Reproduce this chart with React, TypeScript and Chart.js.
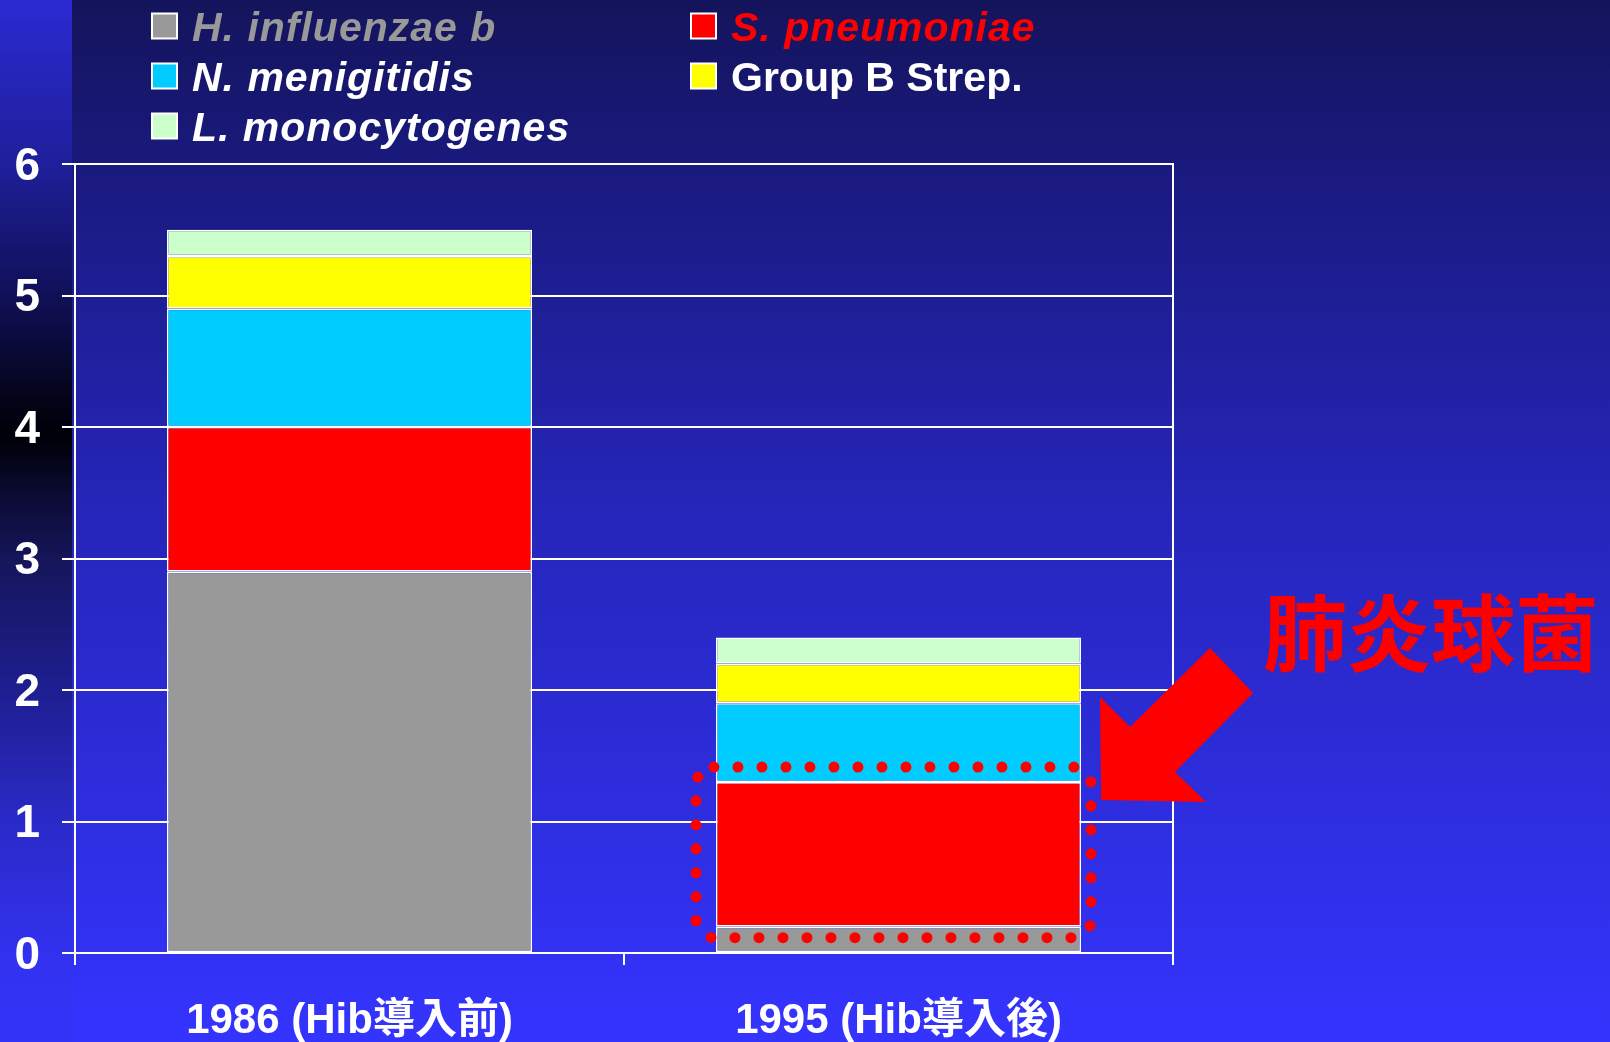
import React, { useEffect, useRef } from "react";
import { Chart, registerables } from "chart.js";

Chart.register(...registerables);

// Meningitis incidence by pathogen, before and after Hib vaccine introduction
const categories = ["1986 (Hib導入前)", "1995 (Hib導入後)"];
const seriesNames = [
  "H. influenzae b",
  "S. pneumoniae",
  "N. menigitidis",
  "Group B Strep.",
  "L. monocytogenes",
];
const hibValues = [2.9, 0.2];
const pneumoValues = [1.1, 1.1];
const meningValues = [0.9, 0.6];
const gbsValues = [0.4, 0.3];
const listeriaValues = [0.2, 0.2];
const seriesValues = [hibValues, pneumoValues, meningValues, gbsValues, listeriaValues];

const seriesColors = ["#999999", "#ff0000", "#00ccff", "#ffff00", "#ccffcc"];
const legendTextColors = ["#999999", "#ff0000", "#ffffff", "#ffffff", "#ffffff"];
const legendItalic = [true, true, true, false, true];

const yMin = 0;
const yMax = 6;
const yStep = 1;

const calloutText = "肺炎球菌";
const highlightSeries = 1; // S. pneumoniae
const highlightCategory = 1; // 1995

const W = 1610;
const H = 1042;
const LATIN = "'Liberation Sans', Arial, 'Noto Sans CJK JP', sans-serif";
const CJK = "'Noto Sans CJK JP', 'Noto Sans CJK SC', sans-serif";

const backgroundPlugin = {
  id: "slideBackground",
  beforeDraw(chart: any) {
    const ctx = chart.ctx;
    ctx.save();
    const g = ctx.createLinearGradient(0, 0, 0, H);
    g.addColorStop(0, "#14145c");
    g.addColorStop(0.2, "#1b1b86");
    g.addColorStop(0.5, "#2626bc");
    g.addColorStop(0.75, "#2d2ddc");
    g.addColorStop(1, "#3434ff");
    ctx.fillStyle = g;
    ctx.fillRect(0, 0, W, H);

    // darker band on the left edge behind the value axis
    const s = ctx.createLinearGradient(0, 0, 0, H);
    s.addColorStop(0, "#2a2ad2");
    s.addColorStop(0.16, "#1f1f9a");
    s.addColorStop(0.28, "#10105a");
    s.addColorStop(0.38, "#04041a");
    s.addColorStop(0.42, "#000008");
    s.addColorStop(0.47, "#0a0a30");
    s.addColorStop(0.54, "#16165c");
    s.addColorStop(0.66, "#1e1e90");
    s.addColorStop(0.79, "#2a2ac8");
    s.addColorStop(0.92, "#3232f0");
    s.addColorStop(1, "#3333f8");
    ctx.fillStyle = s;
    ctx.fillRect(0, 0, 72, H);
    ctx.restore();
  },
};

const frameAndNotesPlugin = {
  id: "frameAndNotes",
  beforeDatasetsDraw(chart: any) {
    const { ctx, chartArea } = chart;
    ctx.save();
    ctx.strokeStyle = "#ffffff";
    ctx.lineWidth = 2;
    ctx.beginPath();
    ctx.moveTo(chartArea.right, chartArea.top - 1);
    ctx.lineTo(chartArea.right, chartArea.bottom + 12);
    ctx.stroke();
    ctx.restore();
  },
  afterDraw(chart: any) {
    const { ctx } = chart;
    ctx.save();

    // legend: two columns, row-major
    const colX = [151, 690];
    const rowY = [26, 76, 126];
    const box = 27;
    seriesNames.forEach((name, i) => {
      const cx = colX[i % 2];
      const cy = rowY[Math.floor(i / 2)];
      ctx.fillStyle = "#ffffff";
      ctx.fillRect(cx, cy - box / 2, box, box);
      ctx.fillStyle = seriesColors[i];
      ctx.fillRect(cx + 2, cy - box / 2 + 2, box - 4, box - 4);
      ctx.fillStyle = legendTextColors[i];
      ctx.font = `${legendItalic[i] ? "italic " : ""}bold 41px ${LATIN}`;
      (ctx as any).letterSpacing = legendItalic[i] ? "1px" : "0px";
      ctx.textAlign = "left";
      ctx.textBaseline = "alphabetic";
      ctx.fillText(name, cx + 41, cy + 14.5);
    });
    (ctx as any).letterSpacing = "0px";

    // dotted outline around the highlighted segment
    const seg = chart.getDatasetMeta(highlightSeries).data[highlightCategory] as any;
    const half = seg.width / 2;
    const left = seg.x - half - 20;
    const right = seg.x + half + 10;
    const top = seg.y - 15;
    const bottom = seg.base + 11;
    ctx.strokeStyle = "#ff0000";
    ctx.lineWidth = 11;
    ctx.lineCap = "round";
    ctx.setLineDash([0, 24]);
    ctx.beginPath();
    ctx.roundRect(left, top, right - left, bottom - top, 18);
    ctx.stroke();
    ctx.setLineDash([]);

    // arrow pointing at the highlighted segment
    const tx = seg.x + half + 20;
    const ty = seg.y + 18;
    const pts = [
      [0, 0],
      [-1, -103],
      [29, -73],
      [109, -152],
      [152, -107],
      [74, -28],
      [105, 2],
    ];
    ctx.fillStyle = "#ff0000";
    ctx.beginPath();
    pts.forEach(([px, py], k) => {
      if (k === 0) ctx.moveTo(tx + px, ty + py);
      else ctx.lineTo(tx + px, ty + py);
    });
    ctx.closePath();
    ctx.fill();

    // callout label
    ctx.font = `bold 84px ${CJK}`;
    ctx.textAlign = "left";
    ctx.textBaseline = "middle";
    ctx.fillStyle = "#ff0000";
    ctx.fillText(calloutText, tx + 162, ty - 167);

    ctx.restore();
  },
};

export default function App() {
  const canvasRef = useRef<HTMLCanvasElement | null>(null);

  useEffect(() => {
    document.body.style.margin = "0";
    document.body.style.overflow = "hidden";
    const canvas = canvasRef.current;
    if (!canvas) return;

    const chart = new Chart(canvas, {
      type: "bar",
      data: {
        labels: categories,
        datasets: seriesValues.map((values, i) => ({
          label: seriesNames[i],
          data: values,
          backgroundColor: seriesColors[i],
          borderColor: "#ffffff",
          borderWidth: 1.6,
          borderSkipped: false,
          barPercentage: 0.665,
          categoryPercentage: 1,
        })),
      },
      options: {
        animation: false,
        responsive: false,
        maintainAspectRatio: false,
        events: [],
        layout: { padding: { top: 164, right: 437, left: 0, bottom: 0 } },
        plugins: {
          legend: { display: false },
          tooltip: { enabled: false },
        },
        scales: {
          x: {
            stacked: true,
            grid: {
              display: true,
              drawOnChartArea: false,
              drawTicks: true,
              tickLength: 12,
              color: "#ffffff",
              lineWidth: 2,
              offset: true,
            },
            border: { display: true, color: "#ffffff", width: 2 },
            ticks: {
              color: "#ffffff",
              font: { family: LATIN, size: 42, weight: "bold" },
              padding: 31,
              maxRotation: 0,
              autoSkip: false,
            },
            afterFit: (scale: any) => {
              scale.height = 89;
            },
          },
          y: {
            stacked: true,
            min: yMin,
            max: yMax,
            ticks: {
              stepSize: yStep,
              color: "#ffffff",
              font: { family: LATIN, size: 46, weight: "bold" },
              padding: 22,
              labelOffset: 3,
            },
            grid: {
              color: "#ffffff",
              lineWidth: 2,
              drawTicks: true,
              tickLength: 13,
            },
            border: { display: true, color: "#ffffff", width: 2 },
            afterFit: (scale: any) => {
              scale.width = 75;
            },
          },
        },
      },
      plugins: [backgroundPlugin, frameAndNotesPlugin],
    } as any);

    return () => chart.destroy();
  }, []);

  return (
    <div style={{ width: W, height: H, position: "relative" }}>
      <canvas ref={canvasRef} width={W} height={H} style={{ display: "block", width: W, height: H }} />
    </div>
  );
}
